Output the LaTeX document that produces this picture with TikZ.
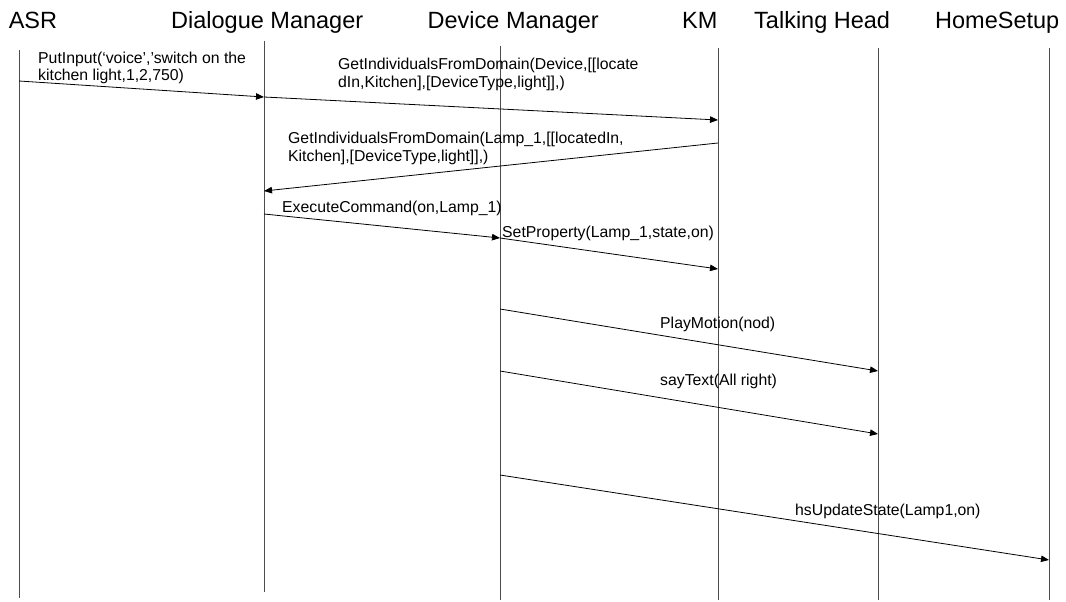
\documentclass[tikz,border=0pt]{standalone}
\usepackage{fontspec}
\setmainfont{Liberation Sans}
\usetikzlibrary{arrows.meta}
\begin{document}
\begin{tikzpicture}[x=1pt,y=-1pt,
  head/.style={anchor=base west, inner sep=0pt, font=\fontsize{23.5}{28}\selectfont},
  msglabel/.style={anchor=base west, inner sep=0pt, font=\fontsize{15.8}{18}\selectfont},
  lifeline/.style={draw=black!70, line width=0.9pt},
  msg/.style={-{Triangle[length=8pt,width=6.5pt]}, line width=0.8pt},
]
\useasboundingbox (0,0) rectangle (1066,602);

% participant headings
\node[head] (hASR) at (8.6,29) {ASR};
\node[head] (hDM)  at (171,29) {Dialogue Manager};
\node[head] (hDev) at (427.5,29) {Device Manager};
\node[head] (hKM)  at (682,29) {KM};
\node[head] (hTH)  at (754,29) {Talking Head};
\node[head] (hHS)  at (935,29) {HomeSetup};

% lifelines
\coordinate (asrT) at (19,50);   \coordinate (asrB) at (19,598);
\coordinate (dmT)  at (264,41);  \coordinate (dmB)  at (264,592);
\coordinate (devT) at (500,46);  \coordinate (devB) at (500,600);
\coordinate (kmT)  at (718,48);  \coordinate (kmB)  at (718,600);
\coordinate (thT)  at (878,48);  \coordinate (thB)  at (878,600);
\coordinate (hsT)  at (1049,48); \coordinate (hsB)  at (1049,600);
\foreach \p in {asr,dm,dev,km,th,hs} \draw[lifeline] (\p T) -- (\p B);

% message end points
\coordinate (m1s) at (19,81);   \coordinate (m1e) at (264,97);
\coordinate (m2s) at (264,97);  \coordinate (m2e) at (718,120);
\coordinate (m3s) at (718,143); \coordinate (m3e) at (264,191);
\coordinate (m4s) at (264,214); \coordinate (m4e) at (500,238);
\coordinate (m5s) at (500,238); \coordinate (m5e) at (718,269);
\coordinate (m6s) at (500,309); \coordinate (m6e) at (878,371);
\coordinate (m7s) at (500,371); \coordinate (m7e) at (878,434);
\coordinate (m8s) at (500,475); \coordinate (m8e) at (1049,560);

\foreach \m in {m1,m2,m3,m4,m5,m6,m7,m8} \draw[msg] (\m s) -- (\m e);

% message labels
\node[msglabel] (l1a) at (38,64)  {PutInput(‘voice’,’switch on the};
\node[msglabel] (l1b) at (38,81)  {kitchen light,1,2,750)};
\node[msglabel] (l2a) at (338,70) {GetIndividualsFromDomain(Device,[[locate};
\node[msglabel] (l2b) at (338,88) {dIn,Kitchen],[DeviceType,light]],)};
\node[msglabel] (l3a) at (288,143) {GetIndividualsFromDomain(Lamp\_1,[[locatedIn,};
\node[msglabel] (l3b) at (288,161) {Kitchen],[DeviceType,light]],)};
\node[msglabel] (l4) at (282,212) {ExecuteCommand(on,Lamp\_1)};
\node[msglabel] (l5) at (502,237) {SetProperty(Lamp\_1,state,on)};
\node[msglabel] (l6) at (660,328) {PlayMotion(nod)};
\node[msglabel] (l7) at (660,385) {sayText(All right)};
\node[msglabel] (l8) at (795,515) {hsUpdateState(Lamp1,on)};
\end{tikzpicture}
\end{document}
